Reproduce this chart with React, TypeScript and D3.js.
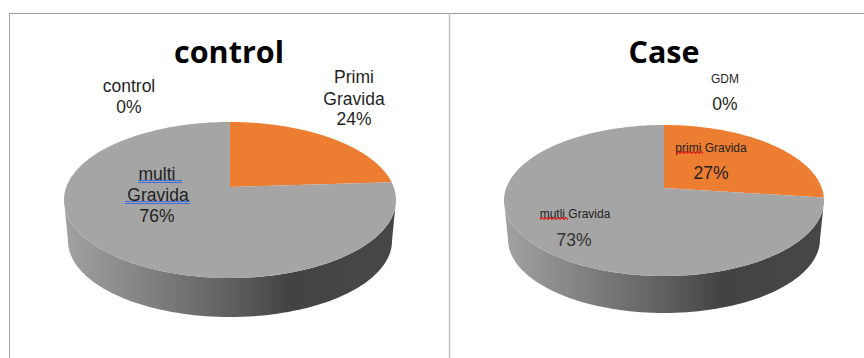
import React from "react";
import * as d3 from "d3";

// Pregnancy history shares per study group (percent), clockwise from twelve o'clock.
const controlNames = ["Primi Gravida", "multi Gravida", "control"];
const controlValues = [24, 76, 0];
const caseNames = ["primi Gravida", "mutli Gravida", "GDM"];
const caseValues = [27, 73, 0];
const sliceColors = ["#ed7d31", "#a5a5a5", "#5b9bd5"];
const panelTitles = ["control", "Case"];

const WIDTH = 864;
const HEIGHT = 358;
const SANS = "'Liberation Sans', Arial, sans-serif";

type Disc = {
  id: string;
  cx: number;
  apexY: number;
  backY: number;
  frontY: number;
  halfWidth: number;
  depth: number;
  taper: number;
};

const discs: Disc[] = [
  { id: "a", cx: 230, apexY: 187, backY: 122, frontY: 278, halfWidth: 166, depth: 39, taper: 0.976 },
  { id: "b", cx: 664, apexY: 188, backY: 125, frontY: 276, halfWidth: 160, depth: 37, taper: 0.975 },
];

// Perspective projection of a flat unit disc (angle clockwise from the far edge) to the page.
function projector(d: Disc) {
  const c = (d.backY + d.frontY - 2 * d.apexY) / (d.backY - d.frontY);
  const a = d.frontY * (1 + c) - d.apexY;
  const s = d.halfWidth * Math.sqrt(1 - c * c);
  const top = (t: number): [number, number] => {
    const u = Math.sin(t);
    const v = -Math.cos(t);
    const w = 1 + c * v;
    return [d.cx + (s * u) / w, (a * v + d.apexY) / w];
  };
  const midY = (d.backY + d.frontY) / 2;
  const ry = (d.frontY - d.backY) / 2;
  const lowerMid = midY + d.depth + ry * (1 - d.taper);
  const lower = (t: number): [number, number] => {
    const [x, y] = top(t);
    return [d.cx + (x - d.cx) * d.taper, lowerMid + (y - midY) * d.taper];
  };
  // The silhouette's widest point sits where cos(angle) equals c.
  return { top, lower, edgeAngle: Math.acos(c) };
}

const line = d3.line<[number, number]>();

function sweep(from: number, to: number, n = 90): number[] {
  return d3.range(n + 1).map((i) => from + ((to - from) * i) / n);
}

function Disc3D({ disc, values }: { disc: Disc; values: number[] }) {
  const p = projector(disc);
  const arcs = d3.pie<number>().sortValues(null).startAngle(0).endAngle(2 * Math.PI)(values);
  const a0 = p.edgeAngle;
  const a1 = 2 * Math.PI - a0;
  const wall = [
    ...sweep(a0, a1).map(p.lower),
    ...sweep(a1, a0).map(p.top),
  ];
  return (
    <g>
      <path d={(line(wall) as string) + "Z"} fill={`url(#wall-${disc.id})`} />
      {arcs.map((s, i) =>
        s.value > 0 ? (
          <path
            key={i}
            fill={sliceColors[i]}
            d={
              (line([
                [disc.cx, disc.apexY],
                ...sweep(s.startAngle, s.endAngle, 160).map(p.top),
              ]) as string) + "Z"
            }
          />
        ) : null
      )}
    </g>
  );
}

function WallGradient({ disc }: { disc: Disc }) {
  const x = d3.scaleLinear().domain([0, 1]).range([disc.cx - disc.halfWidth, disc.cx + disc.halfWidth]);
  const stops: [number, string][] = [
    [0, "#a2a2a2"],
    [0.5, "#606060"],
    [0.68, "#434343"],
    [1, "#474747"],
  ];
  return (
    <linearGradient id={`wall-${disc.id}`} gradientUnits="userSpaceOnUse" x1={x(0)} x2={x(1)} y1={0} y2={0}>
      {stops.map(([o, col]) => (
        <stop key={o} offset={o} stopColor={col} />
      ))}
    </linearGradient>
  );
}

function Label({ x, y, size, children, fill = "#1f1f1f" }: { x: number; y: number; size: number; children: React.ReactNode; fill?: string }) {
  return (
    <text x={x} y={y} fontFamily={SANS} fontSize={size} fill={fill} textAnchor="middle">
      {children}
    </text>
  );
}

// Spell-checker style double underline.
function DoubleRule({ x1, x2, y }: { x1: number; x2: number; y: number }) {
  return (
    <g stroke="#3f6fd6" strokeWidth={1}>
      <line x1={x1} x2={x2} y1={y + 0.5} y2={y + 0.5} />
      <line x1={x1} x2={x2} y1={y + 2.5} y2={y + 2.5} />
    </g>
  );
}

// Spell-checker style wavy underline.
function WavyRule({ x1, x2, y }: { x1: number; x2: number; y: number }) {
  const n = Math.round((x2 - x1) / 2);
  const pts = d3.range(n + 1).map((i): [number, number] => [x1 + (i * (x2 - x1)) / n, y + (i % 2 ? -1 : 1)]);
  return <path d={line(pts) as string} fill="none" stroke="#dc2020" strokeWidth={1.2} />;
}

const pct = (v: number) => `${v}%`;

export default function App() {
  const [primiC, multiC] = controlNames[0].split(" ").concat(controlNames[1].split(" ")).filter((w) => w !== "Gravida");
  const grav = "Gravida";
  const title = { fontFamily: "'Open Sans', 'Noto Sans', sans-serif", fontWeight: 700, fontSize: 30.5, fill: "#000" };
  return (
    <svg
      width={WIDTH}
      height={HEIGHT}
      viewBox={`0 0 ${WIDTH} ${HEIGHT}`}
      style={{ position: "absolute", left: 0, top: 0, display: "block", background: "#fff" }}
    >
      <defs>
        {discs.map((d) => (
          <WallGradient key={d.id} disc={d} />
        ))}
      </defs>

      <line x1={9.5} x2={864} y1={13.5} y2={13.5} stroke="#9a9a9a" />
      <line x1={9.5} x2={9.5} y1={13} y2={358} stroke="#a6a6a6" />
      <line x1={449.5} x2={449.5} y1={13} y2={358} stroke="#bdbdbd" strokeWidth={1.4} />

      <text x={229} y={63} textAnchor="middle" {...title}>{panelTitles[0]}</text>
      <text x={664} y={63} textAnchor="middle" {...title}>{panelTitles[1]}</text>

      <Disc3D disc={discs[0]} values={controlValues} />
      <Disc3D disc={discs[1]} values={caseValues} />

      {/* control group labels */}
      <Label x={129} y={92} size={17.5}>{controlNames[2]}</Label>
      <Label x={129} y={113} size={17.5}>{pct(controlValues[2])}</Label>
      <Label x={354} y={83} size={17.5}>{primiC}</Label>
      <Label x={354} y={105} size={17.5}>{grav}</Label>
      <Label x={354} y={125} size={17.5}>{pct(controlValues[0])}</Label>
      <Label x={157} y={180} size={17.5}>{multiC}</Label>
      <Label x={158} y={201} size={17.5}>{grav}</Label>
      <Label x={157} y={222} size={17.5}>{pct(controlValues[1])}</Label>
      <DoubleRule x1={138} x2={182} y={180} />
      <DoubleRule x1={125} x2={190} y={201} />

      {/* case group labels */}
      <Label x={725} y={83} size={12}>{caseNames[2]}</Label>
      <Label x={725} y={110} size={17.5}>{pct(caseValues[2])}</Label>
      <Label x={711} y={152} size={12}>{caseNames[0]}</Label>
      <Label x={711} y={179} size={17.5}>{pct(caseValues[0])}</Label>
      <Label x={575} y={218} size={12}>{caseNames[1]}</Label>
      <Label x={574} y={246} size={17.5} fill="#333">{pct(caseValues[1])}</Label>
      <WavyRule x1={676} x2={703} y={152.5} />
      <WavyRule x1={540} x2={568} y={218.5} />
    </svg>
  );
}
